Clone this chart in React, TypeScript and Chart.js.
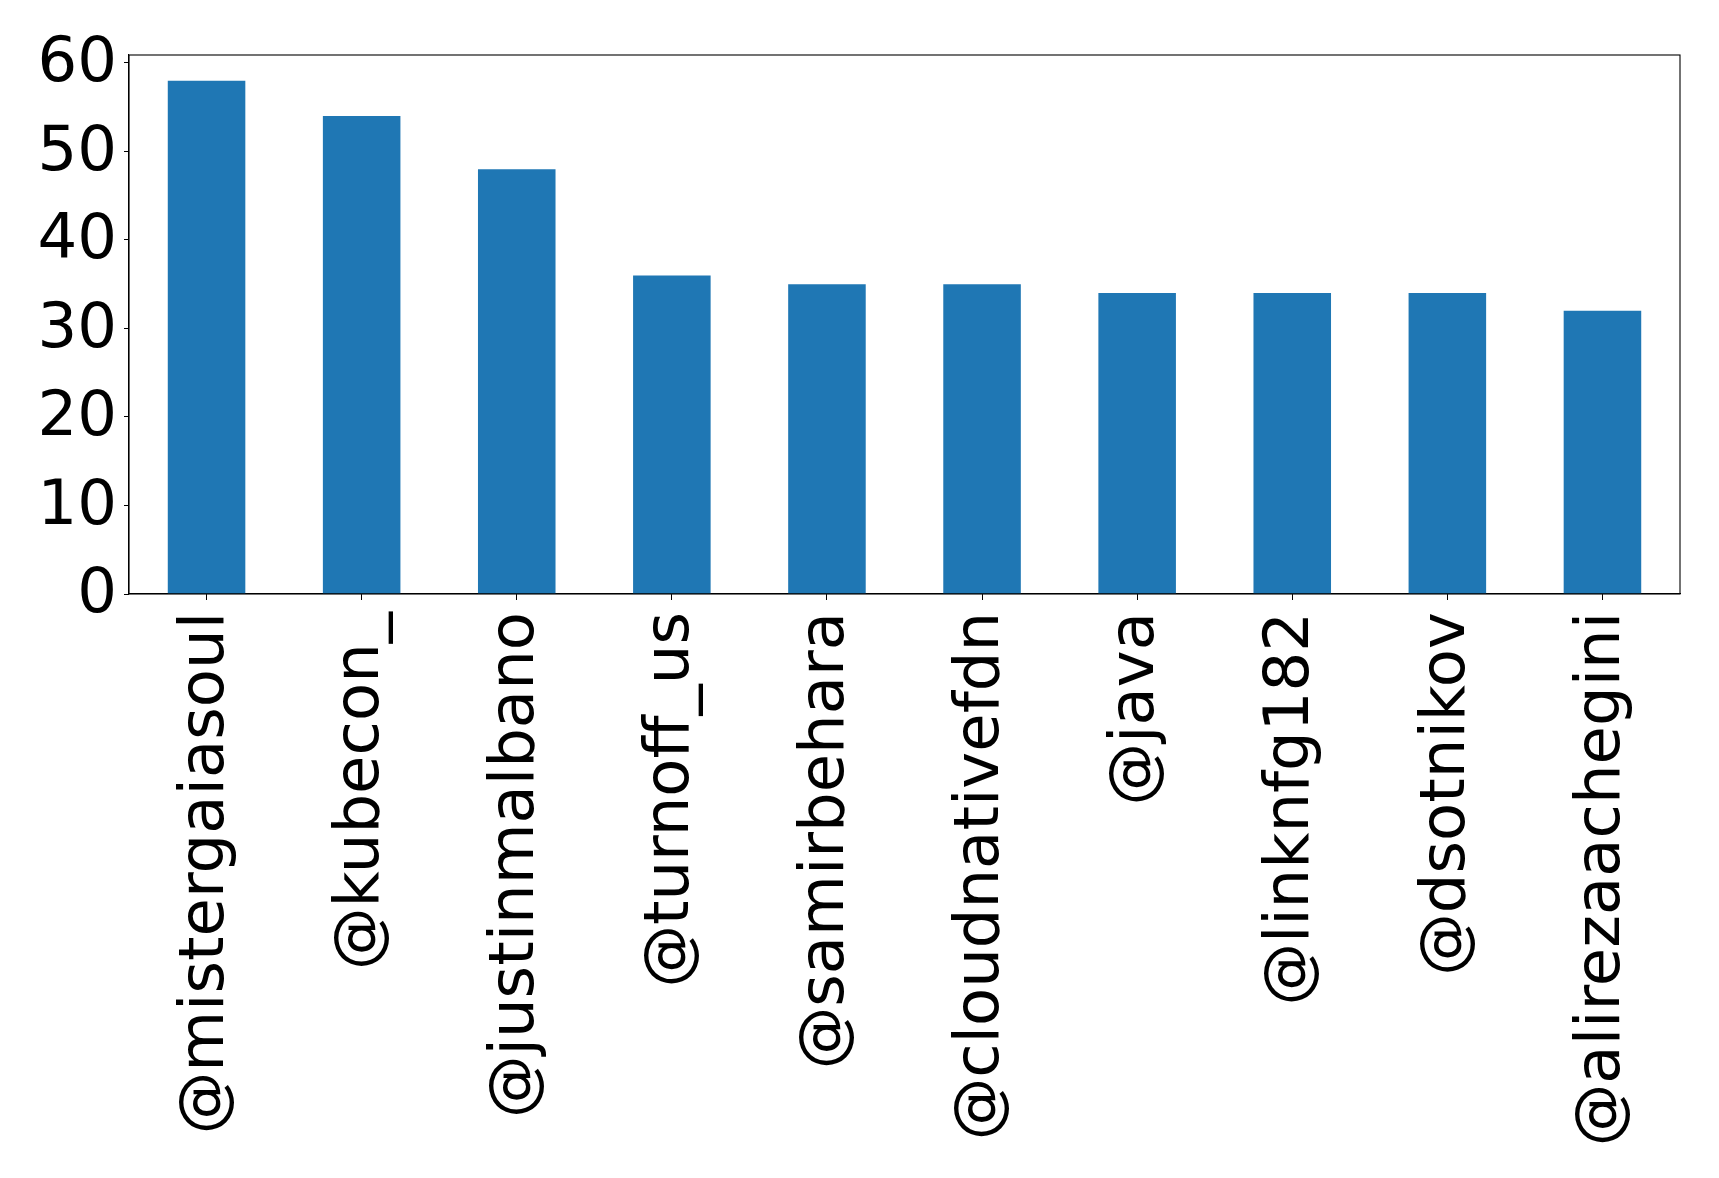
import React, { useEffect, useRef } from "react";
import { Chart, registerables } from "chart.js";

Chart.register(...registerables);

const categories = [
  "@mistergaiasoul",
  "@kubecon_",
  "@justinmalbano",
  "@turnoff_us",
  "@samirbehara",
  "@cloudnativefdn",
  "@java",
  "@linknfg182",
  "@dsotnikov",
  "@alirezaachegini",
];
const counts = [58, 54, 48, 36, 35, 35, 34, 34, 34, 32];
const yTicks = [0, 10, 20, 30, 40, 50, 60];

const framePlugin = {
  id: "frame",
  afterDraw(chart: any) {
    const { ctx, chartArea } = chart;
    ctx.save();
    ctx.strokeStyle = "#000";
    ctx.lineWidth = 1.1;
    ctx.strokeRect(chartArea.left, chartArea.top, chartArea.right - chartArea.left, chartArea.bottom - chartArea.top);
    ctx.restore();
  },
};

export default function App() {
  const ref = useRef<HTMLCanvasElement | null>(null);
  useEffect(() => {
    document.body.style.margin = "0";
    const font = { family: "'DejaVu Sans'", size: 62.5 };
    const chart = new Chart(ref.current!, {
      type: "bar",
      data: {
        labels: categories,
        datasets: [
          {
            data: counts,
            backgroundColor: "#1f77b4",
            categoryPercentage: 1,
            barPercentage: 0.5,
          },
        ],
      },
      options: {
        animation: false,
        responsive: false,
        devicePixelRatio: 1,
        layout: { padding: { top: 55, right: 39, left: 0, bottom: 0 } },
        plugins: { legend: { display: false }, tooltip: { enabled: false } },
        scales: {
          x: {
            offset: true,
            grid: { drawOnChartArea: false, drawTicks: true, tickLength: 6, color: "#000", offset: false },
            border: { display: true, color: "#000", width: 1.1 },
            ticks: { font, color: "#000", maxRotation: 90, minRotation: 90, padding: 12, autoSkip: false },
            afterFit: (s: any) => { s.height = 1178 - 594; },
          },
          y: {
            min: 0,
            max: 60.9,
            grid: { drawOnChartArea: false, drawTicks: true, tickLength: 5, color: "#000" },
            border: { display: true, color: "#000", width: 1.1 },
            ticks: { font, color: "#000", padding: 7, labelOffset: 2 },
            afterBuildTicks: (s: any) => { s.ticks = yTicks.map((v) => ({ value: v })); },
            afterFit: (s: any) => { s.width = 129; },
          },
        },
      },
      plugins: [framePlugin],
    });
    return () => chart.destroy();
  }, []);
  return (
    <div style={{ width: 1719, height: 1178, background: "#fff" }}>
      <canvas ref={ref} width={1719} height={1178} style={{ display: "block" }} />
    </div>
  );
}
